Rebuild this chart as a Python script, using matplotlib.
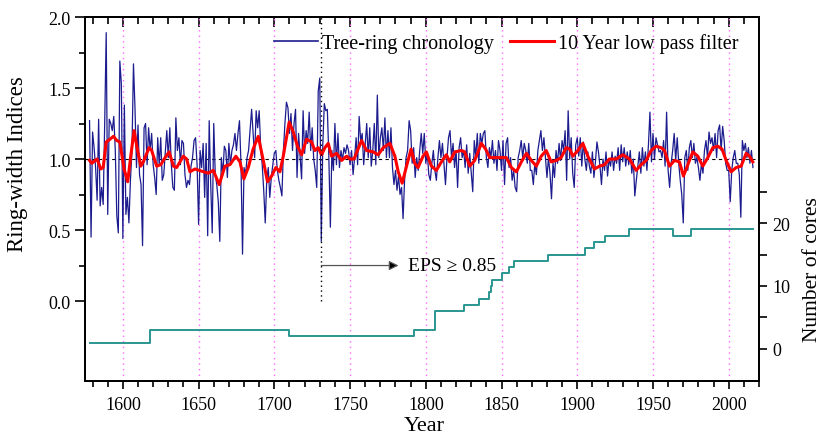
import numpy as np
import matplotlib
matplotlib.use("Agg")
import matplotlib.pyplot as plt
from matplotlib.ticker import FixedLocator, MultipleLocator
from matplotlib.lines import Line2D

plt.rcParams["font.family"] = ["Liberation Serif", "DejaVu Serif"]

# ---- data -------------------------------------------------------------
first_year = 1578
ring_width = [
    1.27, 0.45,                                                   # 1578-1579
    1.19, 1.08, 0.94, 0.71, 1.28, 0.67, 0.80, 0.68, 1.25, 1.89,   # 1580s
    0.61, 1.28, 1.25, 1.20, 1.30, 1.06, 0.60, 0.48, 1.69, 1.53,   # 1590s
    0.44, 1.38, 0.61, 0.73, 0.55, 0.85, 1.06, 1.67, 1.36, 0.94,   # 1600s
    1.24, 0.89, 0.82, 0.39, 1.22, 1.25, 0.96, 1.22, 1.06, 1.18,   # 1610s
    0.96, 0.87, 0.75, 1.15, 0.96, 1.15, 0.85, 0.89, 1.04, 1.20,   # 1620s
    1.01, 1.22, 0.96, 0.80, 0.78, 1.29, 1.06, 1.15, 0.96, 1.13,   # 1630s
    1.11, 0.89, 0.80, 0.85, 0.82, 0.95, 1.01, 1.13, 1.15, 0.96,   # 1640s
    0.54, 1.06, 0.94, 1.11, 0.73, 1.11, 0.46, 1.27, 0.82, 0.48,   # 1650s
    1.25, 0.89, 0.82, 0.70, 0.42, 1.01, 0.89, 1.09, 1.06, 0.87,   # 1660s
    1.11, 0.96, 1.06, 1.10, 1.18, 1.06, 1.18, 1.27, 0.96, 0.33,   # 1670s
    0.94, 0.89, 1.01, 1.06, 1.20, 1.35, 1.18, 1.01, 1.34, 1.22,   # 1680s
    1.34, 1.08, 0.96, 0.78, 0.55, 0.85, 0.94, 0.73, 0.87, 0.96,   # 1690s
    1.04, 1.06, 0.92, 0.85, 0.80, 0.74, 1.06, 1.25, 1.40, 1.36,   # 1700s
    1.18, 1.32, 1.06, 1.25, 1.35, 0.87, 1.18, 1.02, 0.86, 1.34,   # 1710s
    1.04, 1.20, 1.11, 1.33, 1.06, 1.22, 1.00, 0.92, 0.80, 1.48,   # 1720s
    1.57, 0.42, 1.10, 1.39, 1.34, 1.35, 1.01, 0.52, 1.06, 0.92,   # 1730s
    1.25, 0.96, 1.18, 0.94, 1.06, 0.99, 1.08, 1.04, 1.10, 1.06,   # 1740s
    0.96, 1.06, 0.89, 1.01, 1.15, 0.96, 1.30, 1.13, 1.18, 0.96,   # 1750s
    1.11, 1.25, 1.01, 1.22, 0.95, 1.06, 1.25, 0.96, 1.45, 1.01,   # 1760s
    1.15, 1.22, 1.06, 1.29, 1.01, 1.20, 1.01, 1.22, 0.94, 0.82,   # 1770s
    0.92, 0.78, 0.88, 0.75, 0.80, 0.58, 0.85, 1.01, 1.06, 1.27,   # 1780s
    1.20, 0.97, 1.08, 0.87, 1.01, 0.92, 1.06, 1.18, 1.04, 1.18,   # 1790s
    0.97, 1.04, 0.89, 0.85, 0.97, 1.06, 0.92, 0.85, 1.01, 1.13,   # 1800s
    1.01, 1.11, 0.97, 0.82, 1.01, 1.15, 1.20, 1.01, 1.11, 0.94,   # 1810s
    1.06, 0.80, 1.08, 1.15, 1.01, 1.06, 0.94, 1.10, 0.90, 1.04,   # 1820s
    0.90, 0.77, 1.13, 1.01, 1.18, 0.97, 1.18, 1.11, 1.18, 1.20,   # 1830s
    1.01, 0.94, 1.08, 1.01, 1.13, 0.97, 1.06, 0.92, 1.13, 1.06,   # 1840s
    0.92, 1.13, 0.82, 1.11, 1.15, 0.94, 1.01, 0.85, 0.92, 0.80,   # 1850s
    0.77, 1.01, 1.06, 1.13, 1.01, 1.11, 1.06, 0.97, 1.11, 0.92,   # 1860s
    0.92, 0.82, 0.97, 0.89, 1.06, 1.13, 1.20, 1.06, 1.15, 1.01,   # 1870s
    0.87, 1.01, 0.90, 0.72, 0.97, 0.87, 1.06, 0.97, 1.11, 0.99,   # 1880s
    1.13, 1.06, 1.20, 0.85, 1.34, 1.00, 1.15, 0.90, 0.80, 1.10,   # 1890s
    1.15, 1.02, 1.15, 0.95, 1.12, 1.00, 0.92, 1.05, 0.95, 0.90,   # 1900s
    1.05, 0.87, 0.98, 1.12, 1.05, 0.95, 0.82, 1.00, 0.92, 1.05,   # 1910s
    0.88, 1.00, 0.95, 1.05, 0.92, 1.02, 0.97, 1.08, 0.92, 1.10,   # 1920s
    0.98, 1.08, 0.95, 1.05, 0.96, 1.06, 0.90, 1.00, 0.74, 0.85,   # 1930s
    0.95, 1.05, 0.90, 1.08, 0.95, 1.05, 0.92, 1.10, 1.33, 0.98,   # 1940s
    1.18, 1.00, 1.15, 1.10, 1.05, 1.06, 1.01, 1.13, 0.95, 1.33,   # 1950s
    0.92, 0.80, 0.97, 1.06, 1.18, 0.99, 1.15, 0.97, 0.85, 0.75,   # 1960s
    0.55, 1.01, 1.06, 0.92, 1.08, 1.13, 1.01, 1.11, 0.97, 1.01,   # 1970s
    0.94, 0.85, 0.97, 0.90, 1.06, 1.13, 1.01, 1.19, 1.11, 1.15,   # 1980s
    1.06, 1.18, 1.01, 1.20, 1.24, 1.06, 1.23, 1.13, 0.97, 0.92,   # 1990s
    0.92, 0.70, 0.92, 1.01, 1.06, 0.97, 0.97, 0.89, 0.59, 1.13,   # 2000s
    1.06, 1.11, 1.01, 1.08, 0.97, 1.06, 0.94,                     # 2010-2016
]
years = np.arange(first_year, first_year + len(ring_width))

# 10-year low pass filter
lpf_years = [
    1578, 1579.5, 1581.7, 1583, 1585.4, 1587, 1589, 1591.6, 1593.8, 1596,
    1598, 1600.8, 1603.2, 1605.2, 1607.4, 1609.2, 1611.8, 1613.5, 1617.3, 1619,
    1622.3, 1625, 1627.9, 1630.5, 1633.4, 1635.5, 1639.9, 1642.1, 1644.3, 1647.6,
    1650.4, 1653.5, 1656.4, 1659.7, 1663.6, 1667.4, 1670.7, 1674.6, 1677.3, 1679.9,
    1682.8, 1686, 1689.4, 1692.7, 1695.5, 1698.2, 1701, 1703.7, 1705.9, 1709.8,
    1712.5, 1715.3, 1718, 1721.3, 1724.6, 1726.8, 1729, 1731.2, 1733.4, 1735.6,
    1737.8, 1741.1, 1744.4, 1747.7, 1749.9, 1752.6, 1757.6, 1760.9, 1765.3, 1768.6,
    1771.9, 1776.3, 1779.6, 1781.8, 1784.4, 1787.3, 1790.3, 1792.7, 1794.9, 1798.2,
    1800.4, 1803.7, 1807, 1810.3, 1813.6, 1815.8, 1819.1, 1823.5, 1825.7, 1829,
    1832.3, 1836.7, 1839.5, 1842.2, 1845.5, 1848.8, 1853.2, 1856.5, 1859.8, 1863.1,
    1866.4, 1869.7, 1873, 1876.2, 1879.5, 1882.8, 1886.1, 1889.4, 1892.7, 1895,
    1897.1, 1900.4, 1903.7, 1907, 1911.4, 1914.7, 1918, 1921.3, 1925.7, 1930.1,
    1934.5, 1938.9, 1942.2, 1945.5, 1948.8, 1952.1, 1955.4, 1957.6, 1960.9, 1964.2,
    1967.5, 1970.1, 1973, 1976.3, 1979.6, 1982.9, 1986.2, 1989.5, 1992.8, 1995.6,
    1998.3, 2001.6, 2004.9, 2008.2, 2011.5, 2013.7, 2015.9,
]
lpf_values = [
    0.99, 0.97, 0.99, 1.00, 0.93, 0.94, 1.12, 1.14, 1.16, 1.13,
    1.12, 0.93, 0.84, 1.02, 1.20, 1.09, 0.95, 0.98, 1.08, 1.06,
    0.95, 0.96, 1.01, 1.05, 0.95, 0.94, 1.02, 1.00, 0.91, 0.93,
    0.92, 0.91, 0.90, 0.92, 0.82, 0.95, 0.96, 1.02, 0.98, 0.86,
    0.94, 1.07, 1.16, 0.99, 0.84, 0.88, 0.94, 0.91, 1.02, 1.26,
    1.19, 1.09, 1.03, 1.14, 1.12, 1.06, 1.08, 1.03, 1.08, 1.11,
    1.02, 1.04, 0.99, 1.02, 1.00, 1.00, 1.13, 1.06, 1.05, 1.03,
    1.08, 1.11, 1.02, 0.91, 0.83, 0.95, 1.07, 0.97, 0.94, 1.02,
    1.05, 0.95, 0.92, 0.98, 1.03, 0.98, 1.05, 1.06, 1.05, 0.95,
    0.99, 1.11, 1.07, 1.01, 1.01, 1.01, 1.01, 0.94, 0.91, 0.98,
    1.04, 0.99, 0.95, 1.02, 1.06, 0.98, 0.99, 1.01, 1.08, 1.07,
    1.02, 1.06, 1.11, 1.02, 0.93, 0.95, 0.96, 1.00, 1.00, 1.03,
    1.00, 0.92, 0.96, 0.99, 1.06, 1.09, 1.08, 1.06, 0.95, 0.99,
    0.98, 0.88, 0.96, 1.05, 1.02, 0.95, 1.01, 1.08, 1.09, 1.07,
    0.99, 0.91, 0.94, 0.95, 1.04, 1.02, 0.98,
]

# Sample depth: year from which each core count applies
depth_years = [1578, 1618, 1710, 1792, 1806, 1825, 1835, 1842, 1843, 1844,
               1850, 1855, 1858, 1881, 1905, 1911, 1918, 1934, 1963, 1975, 2016]
depth_cores = [1, 3, 2, 3, 6, 7, 8, 9, 10, 11,
               12, 13, 14, 15, 16, 17, 18, 19, 18, 19, 19]

eps_year = 1731
eps_label = "EPS \u2265 0.85"
century_marks = [1600, 1650, 1700, 1750, 1800, 1850, 1900, 1950, 2000]

# ---- figure -----------------------------------------------------------
fig = plt.figure(figsize=(8.31, 4.39), dpi=100)
ax = fig.add_axes([85 / 831, 1 - 382 / 439, 674 / 831, 364 / 439])

navy = "#1c1c8f"
teal = "#2a9690"
magenta = "#ff66ff"
tick_fs = 13

for yr in century_marks:
    ax.axvline(yr, color=magenta, lw=1.0, ls=(0, (1, 3)), zorder=1)
ax.axhline(1.0, color="black", lw=0.8, ls=(0, (3, 3)), zorder=1)

ax.plot(years, ring_width, color=navy, lw=0.9, zorder=3,
        label="Tree-ring chronology")
ax.plot(lpf_years, lpf_values, color="#ff0000", lw=2.2, zorder=4,
        solid_joinstyle="round", label="10 Year low pass filter")

# EPS cut-off marker
ax.plot([eps_year, eps_year], [0.0, 2.0], color="black", lw=1.0,
        ls=(0, (1, 2.5)), zorder=5)
ax.annotate("", xy=(1782, 0.25), xytext=(eps_year, 0.25),
            arrowprops=dict(arrowstyle="-|>", color="#555555", lw=0.9,
                            mutation_scale=14, shrinkA=0, shrinkB=0,
                            fc="black", ec="#555555"))
ax.text(1788, 0.25, eps_label, fontsize=14, va="center", ha="left")

ax.set_xlim(1575, 2020)
ax.set_ylim(-0.563, 2.0)
ax.xaxis.set_major_locator(FixedLocator(century_marks))
ax.xaxis.set_minor_locator(MultipleLocator(10))
ax.yaxis.set_major_locator(FixedLocator([0.0, 0.5, 1.0, 1.5, 2.0]))
ax.yaxis.set_minor_locator(FixedLocator([0.25, 0.75, 1.25, 1.75]))
ax.yaxis.set_major_formatter(plt.FuncFormatter(lambda v, p: f"{v:.1f}"))

ax.tick_params(axis="x", which="both", direction="out", top=False,
               labelsize=tick_fs, width=1.2)
ax.tick_params(axis="x", which="major", length=6, pad=5)
ax.tick_params(axis="x", which="minor", length=4)
ax.tick_params(axis="y", which="both", direction="out", labelsize=tick_fs,
               width=1.2)
ax.tick_params(axis="y", which="major", length=7)
ax.tick_params(axis="y", which="minor", length=4)

# inward ticks along the top edge
top = ax.secondary_xaxis("top")
top.xaxis.set_major_locator(FixedLocator(century_marks))
top.xaxis.set_minor_locator(MultipleLocator(10))
top.tick_params(which="both", direction="in", labeltop=False, width=1.2)
top.tick_params(which="major", length=7)
top.tick_params(which="minor", length=5)

for s in ax.spines.values():
    s.set_linewidth(1.3)
top.spines["top"].set_linewidth(1.3)

ax.set_xlabel("Year", fontsize=16)
ax.xaxis.set_label_coords(0.504, -0.097)
ax.set_ylabel("Ring-width Indices", fontsize=16.5)
ax.yaxis.set_label_coords(-0.085, 0.60)

# sample depth on a secondary axis
ax2 = ax.twinx()
ax2.step(depth_years, depth_cores, where="post", color=teal, lw=1.4,
         zorder=2)
ax2.set_ylim(-5.08, 52.7)
ax2.yaxis.set_major_locator(FixedLocator([0, 10, 20]))
ax2.yaxis.set_minor_locator(FixedLocator([5, 15, 25]))
ax2.tick_params(axis="y", which="both", direction="out", labelsize=tick_fs,
                width=1.2)
ax2.tick_params(axis="y", which="major", length=6)
ax2.tick_params(axis="y", which="minor", length=6)
ax2.set_ylabel("Number of cores", fontsize=15.5)
ax2.yaxis.set_label_coords(1.066, 0.31)
for s in ax2.spines.values():
    s.set_linewidth(1.3)

leg = ax.legend(handles=[
    Line2D([], [], color=navy, lw=1.2),
    Line2D([], [], color="#ff0000", lw=2.2)],
    labels=["Tree-ring chronology", "10 Year low pass filter"],
    loc="center", bbox_to_anchor=(0.625, 0.929), ncol=2, frameon=False,
    fontsize=14.5, handlelength=2.2, handletextpad=0.2, columnspacing=0.8,
    borderpad=0, borderaxespad=0)

fig.savefig("out.png", dpi=100)
